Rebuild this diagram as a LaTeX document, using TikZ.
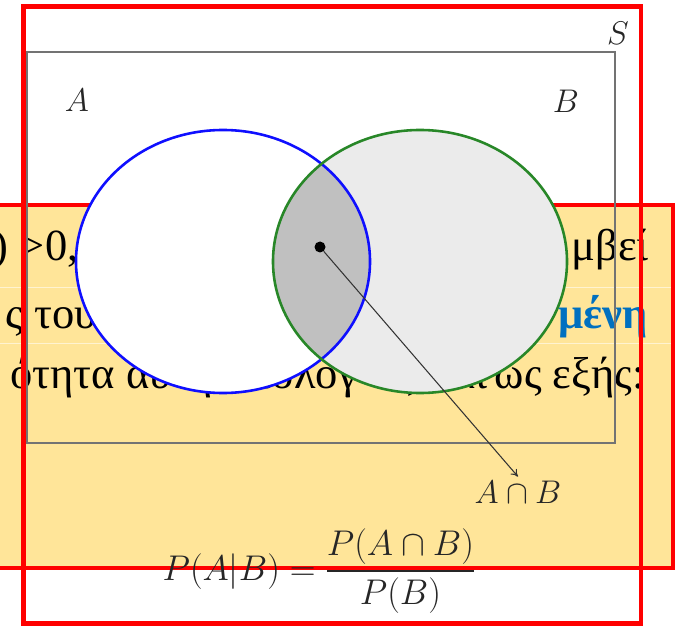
\RequirePackage{fix-cm}
\documentclass[tikz,border=0pt]{standalone}
\usepackage{amsmath}
\usepackage{fontspec}
\newfontfamily\slidefont{Liberation Serif}
\usepackage{tikz}
\usetikzlibrary{arrows.meta,shapes.geometric,positioning}
\definecolor{slideYellow}{RGB}{255,229,153}
\definecolor{frameRed}{RGB}{255,0,0}
\definecolor{setBlue}{RGB}{15,15,255}
\definecolor{setGreen}{RGB}{40,135,40}
\definecolor{emphBlue}{RGB}{0,112,192}
\definecolor{onlyBGray}{RGB}{235,235,235}
\definecolor{bothGray}{RGB}{192,192,192}
\tikzset{
  slidebox/.style={draw=frameRed, line width=3.4pt, fill=slideYellow},
  redframe/.style={draw=frameRed, line width=4.2pt},
  spacebox/.style={draw=black!55, line width=1.3pt},
  setshape/.style={ellipse, minimum width=8.82cm, minimum height=7.89cm, inner sep=0pt},
  slidetext/.style={font=\slidefont\fontsize{38}{43}\selectfont, inner sep=0pt},
  venntext/.style={font=\fontsize{28}{34}\selectfont, text=black!85},
  vennArrow/.style={-{To[length=6pt,width=7pt]}, line width=0.9pt, draw=black!80}
}

\begin{document}
\begin{tikzpicture}[x=0.03cm, y=-0.03cm]
  \useasboundingbox (0,0) rectangle (676,626);
  \clip (0,0) rectangle (676,626);
  % slide box behind the figure
  \draw[slidebox] (-20,205) rectangle (673,568);
  \draw[slideYellow!45!white, line width=0.6pt] (-20,287) -- (671,287);
  \draw[slideYellow!45!white, line width=0.6pt] (-20,343) -- (671,343);
  \node[slidetext, anchor=base east] (lineOneL) at (79,261) {\textit{P}(\textit{B}) >\kern1pt0,};
  \node[slidetext, anchor=base east] (lineOneR) at (649,261) {μβεί};
  \node[slidetext, anchor=base east] (lineTwoL) at (97,328) {ς του};
  \node[slidetext, anchor=base east, text=emphBlue,
        font=\slidefont\bfseries\fontsize{38}{43}\selectfont] (lineTwoR) at (648,328) {μένη};
  \node[slidetext, anchor=base east] (lineThreeL) at (213,388) {ότητα αυτή};
  \node[slidetext, anchor=base east] (lineThreeM) at (358,388) {υπολογ};
  \node[slidetext, anchor=base east] (lineThreeN) at (488,388) {ίζεται};
  \node[slidetext, anchor=base east] (lineThreeR) at (645,388) {ως εξής:};
  % sample space
  \draw[spacebox] (27,52) rectangle (615,443);
  % the two events
  \node[setshape, fill=white] (setA) at (223,261.5) {};
  \node[setshape, fill=onlyBGray] (setB) at (420,261.5) {};
  \begin{scope}
    \clip (setA.center) ellipse [x radius=4.41cm, y radius=3.945cm];
    \fill[bothGray] (setB.center) ellipse [x radius=4.41cm, y radius=3.945cm];
  \end{scope}
  \draw[setBlue, line width=2.2pt] (setA.center) ellipse [x radius=4.41cm, y radius=3.945cm];
  \draw[setGreen, line width=2.2pt] (setB.center) ellipse [x radius=4.41cm, y radius=3.945cm];
  \node[venntext] (labelA) at (77,100) {$A$};
  \node[venntext] (labelB) at (566,101) {$B$};
  \node[venntext] (labelS) at (618,33) {$S$};
  \node[circle, fill=black, minimum size=0.33cm, inner sep=0pt] (meet) at (320,247) {};
  \node[venntext] (capLabel) at (518,492) {$A\cap B$};
  \draw[vennArrow] (meet) -- (capLabel.north);
  \node[venntext, font=\fontsize{30.5}{36}\selectfont, anchor=base] (condProb) at (319,580)
    {$P(A|B)=\dfrac{P(A\cap B)}{P(B)}$};
  % frame round the figure
  \draw[redframe] (23.5,6.5) rectangle (641,623.5);
\end{tikzpicture}
\end{document}
